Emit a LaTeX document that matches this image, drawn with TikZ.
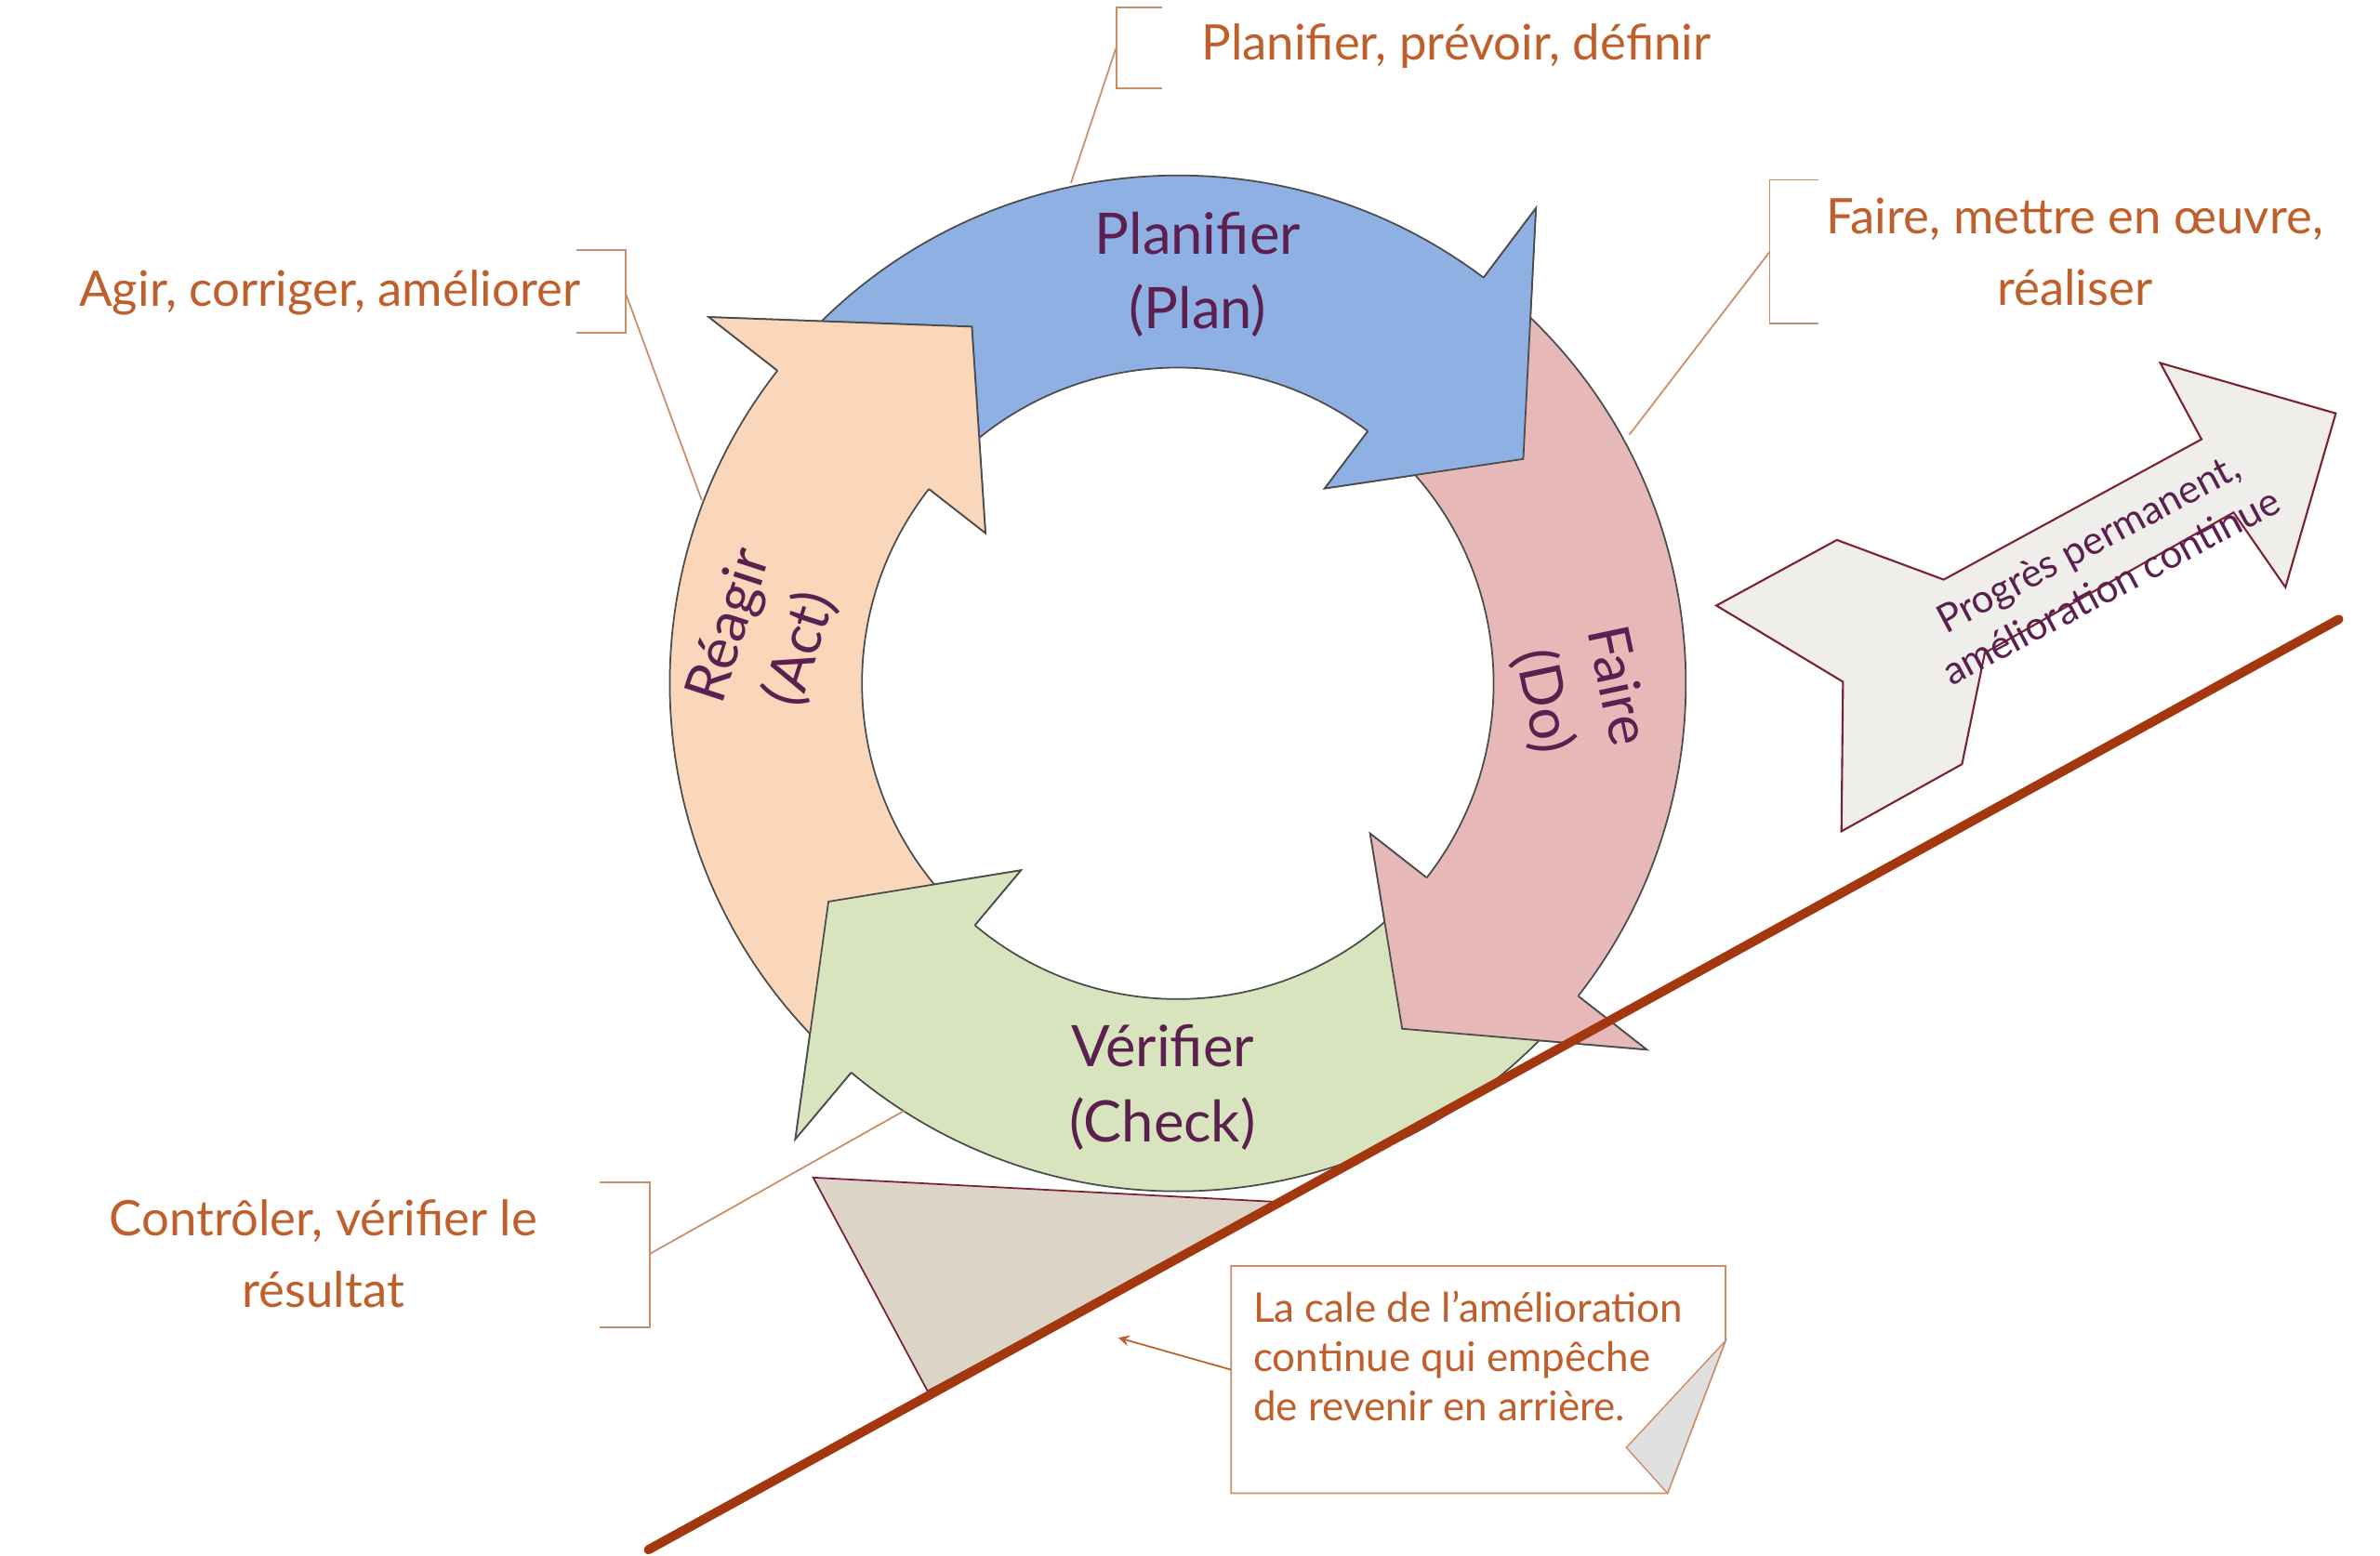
\documentclass[tikz,border=0pt]{standalone}
\usepackage{fontspec}
\setmainfont{Lato}
\usetikzlibrary{arrows, positioning}

\definecolor{plancol}{HTML}{8EB0E3}
\definecolor{docol}{HTML}{E6B9B8}
\definecolor{checkcol}{HTML}{D7E4BD}
\definecolor{actcol}{HTML}{FAD7BA}
\definecolor{notetxt}{HTML}{BF5F2C}
\definecolor{leadcol}{HTML}{C98E68}
\definecolor{ringtxt}{HTML}{5B1F50}
\definecolor{slopecol}{HTML}{A3380E}
\definecolor{edgecol}{HTML}{7B2232}
\definecolor{wedgecol}{HTML}{DDD4C8}
\definecolor{progcol}{HTML}{F0EEEA}

% ring arrow: color, tail angle, body end angle, tip angle
\newcommand{\pdcaArrow}[4]{%
  \path[ring, fill=#1] (#2:333) arc[start angle=#2, end angle=#3, radius=333]
    -- (#3:390) -- (#4:270) -- (#3:160) -- (#3:207)
    arc[start angle=#3, end angle=#2, radius=207] -- cycle;}
\newcommand{\pdcaHead}[4]{%
  \fill[#1] (#3:333) -- (#3:390) -- (#4:270) -- (#3:160) -- (#3:207) -- cycle;
  \draw[ring] (#3:333) -- (#3:390) -- (#4:270) -- (#3:160) -- (#3:207);}

\begin{document}
\begin{tikzpicture}[x=0.01641cm, y=0.01641cm]

% Define styles
\tikzstyle{ring} = [draw=black!70, line width=0.5pt]
\tikzstyle{steplabel} = [text=ringtxt, font=\fontsize{17.5}{23}\selectfont, align=center]
\tikzstyle{note} = [text=notetxt, font=\fontsize{15}{22}\selectfont, align=center]
\tikzstyle{lead} = [draw=leadcol, line width=0.5pt]

\useasboundingbox (0,0) rectangle (1560,1020);

% Ring of arrows
\begin{scope}[shift={(772,572)}]
\pdcaArrow{plancol}{138}{53}{33}
\pdcaArrow{docol}{49}{-38}{-57}
\pdcaArrow{checkcol}{-42}{-130}{-148}
\pdcaArrow{actcol}{-134}{-218}{-240}
\pdcaHead{plancol}{138}{53}{33}
\pdcaHead{docol}{49}{-38}{-57}
\pdcaHead{checkcol}{-42}{-130}{-148}
\pdcaHead{actcol}{-134}{-218}{-240}
\end{scope}

% Step labels
\node (plan) [steplabel] at (785,840) {Planifier\\(Plan)};
\node (do) [steplabel, rotate=-78] at (1035,565) {Faire\\(Do)};
\node (check) [steplabel] at (762,307) {Vérifier\\(Check)};
\node (act) [steplabel, rotate=72] at (502,602) {Réagir\\(Act)};

% Annotations
\node (plannote) [note, anchor=west] at (780,990) {Planifier, prévoir, définir};
\node (donote) [note] at (1360,855) {Faire, mettre en œuvre,\\réaliser};
\node (actnote) [note, anchor=east] at (388,828) {Agir, corriger, améliorer};
\node (checknote) [note] at (212,198) {Contrôler, vérifier le\\résultat};

\coordinate (planpt) at (702,900);
\coordinate (dopt) at (1068,735);
\coordinate (actpt) at (460,692);
\coordinate (checkpt) at (593,292);

\draw [lead] (762,1015) -- (732,1015) -- (732,962) -- (762,962);
\draw [lead] (732,990) -- (planpt);
\draw [lead] (1192,902) -- (1160,902) -- (1160,808) -- (1192,808);
\draw [lead] (1160,855) -- (dopt);
\draw [lead] (378,856) -- (410,856) -- (410,802) -- (378,802);
\draw [lead] (410,828) -- (actpt);
\draw [lead] (393,245) -- (426,245) -- (426,150) -- (393,150);
\draw [lead] (426,198) -- (checkpt);

% Wedge and slope
\draw [draw=edgecol, fill=wedgecol, line width=0.5pt] (533,248) -- (838,232) -- (608,108) -- cycle;
\coordinate (slopeA) at (425,4);
\coordinate (slopeB) at (1533,614);
\draw [slopecol, line width=2.8pt, line cap=round] (slopeA) -- (slopeB);

% Progress arrow
\draw [draw=edgecol, fill=progcol, line width=0.6pt]
  (1125,623) -- (1204,666) -- (1274,640) -- (1443,732) -- (1416,782) -- (1531,749)
  -- (1498,635) -- (1464,684) -- (1301,592) -- (1286,519) -- (1207,475) -- (1208,573) -- cycle;
\node (progress) [text=ringtxt, font=\fontsize{12}{15}\selectfont, align=center, rotate=28] at (1376,650) {Progrès permanent,\\amélioration continue};

% Note box with folded corner
\draw [lead, fill=white] (807,190) -- (1131,190) -- (1131,141) -- (1093,41) -- (807,41) -- cycle;
\draw [draw=leadcol, fill=black!12, line width=0.4pt] (1131,141) -- (1066,71) -- (1093,41) -- cycle;
\node (wedgenote) [text=notetxt, font=\fontsize{12.5}{15}\selectfont, align=left, anchor=west] at (814,131) {La cale de l’amélioration\\continue qui empêche\\de revenir en arrière.};
\coordinate (wedgept) at (733,143);
\draw [draw=notetxt, line width=0.5pt, -stealth] (807,122) -- (wedgept);

\end{tikzpicture}
\end{document}
